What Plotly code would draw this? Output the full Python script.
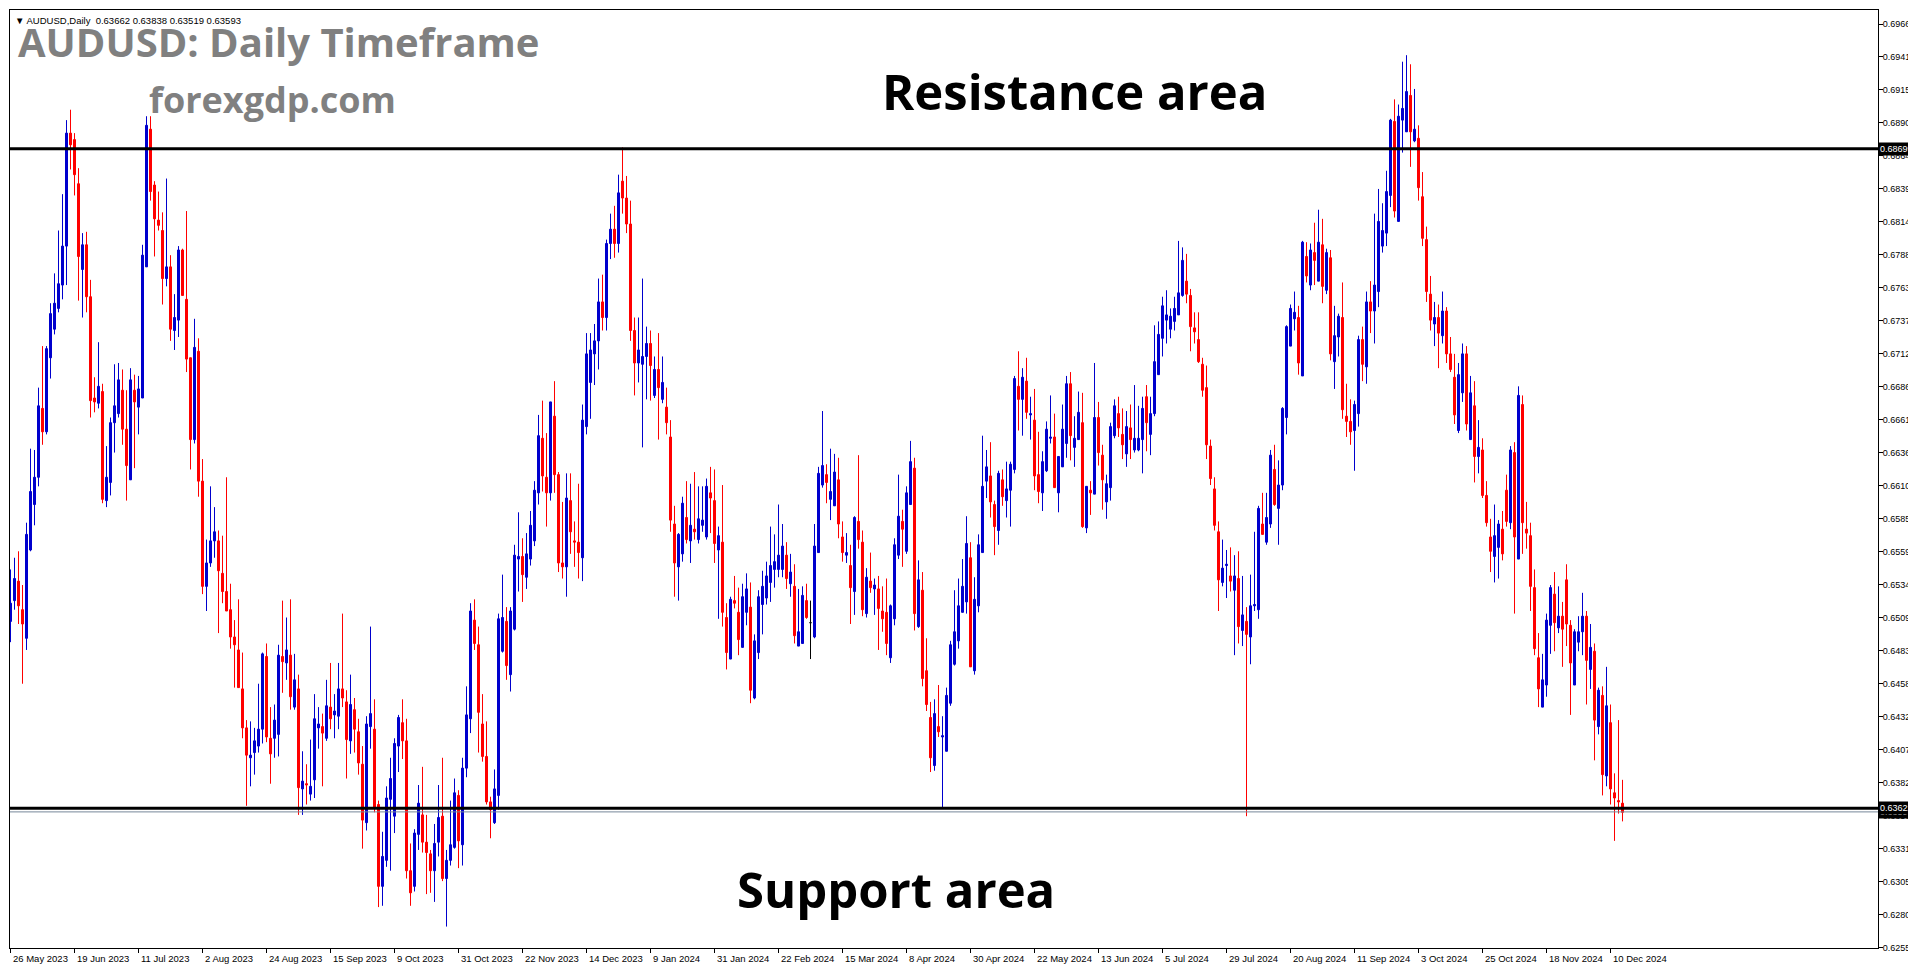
import plotly.graph_objects as go

# ---------------- text ----------------
HEADER = "\u25BC AUDUSD,Daily  0.63662 0.63838 0.63519 0.63593"
TITLE = "AUDUSD: Daily Timeframe"
SUBTITLE = "forexgdp.com"
RES_LABEL = "Resistance area"
SUP_LABEL = "Support area"

# ---------------- levels ----------------
RESISTANCE = 0.68699
SUPPORT = 0.63622
BID = 0.63593

# ---------------- x-axis (bar index) ticks ----------------
date_tick_bars = [0, 16, 32, 48, 64, 80, 96, 112, 128, 144, 160, 176, 192,
                  208, 224, 240, 256, 272, 288, 304, 320, 336, 352, 368, 384, 400]
date_tick_labels = ["26 May 2023", "19 Jun 2023", "11 Jul 2023", "2 Aug 2023", "24 Aug 2023",
                    "15 Sep 2023", "9 Oct 2023", "31 Oct 2023", "22 Nov 2023", "14 Dec 2023",
                    "9 Jan 2024", "31 Jan 2024", "22 Feb 2024", "15 Mar 2024", "8 Apr 2024",
                    "30 Apr 2024", "22 May 2024", "13 Jun 2024", "5 Jul 2024", "29 Jul 2024",
                    "20 Aug 2024", "11 Sep 2024", "3 Oct 2024", "25 Oct 2024", "18 Nov 2024",
                    "10 Dec 2024"]

# ---------------- price ticks ----------------
price_ticks = [0.69660, 0.69410, 0.69155, 0.68900, 0.68645, 0.68390, 0.68140, 0.67885,
               0.67630, 0.67375, 0.67120, 0.66865, 0.66615, 0.66360, 0.66105, 0.65850,
               0.65595, 0.65345, 0.65090, 0.64835, 0.64580, 0.64325, 0.64070, 0.63820,
               0.63565, 0.63310, 0.63055, 0.62800, 0.62550]
price_tick_labels = ["0.69660", "0.69410", "0.69155", "0.68900", "0.68645", "0.68390",
                     "0.68140", "0.67885", "0.67630", "0.67375", "0.67120", "0.66865",
                     "0.66615", "0.66360", "0.66105", "0.65850", "0.65595", "0.65345",
                     "0.65090", "0.64835", "0.64580", "0.64325", "0.64070", "0.63820",
                     "0.63565", "0.63310", "0.63055", "0.62800", "0.62550"]

# ---------------- daily OHLC (units of 0.0001) ----------------
opens = [
    6506, 6522, 6537, 6515, 6493, 6561, 6596, 6617, 6670, 6652,
    6709, 6731, 6747, 6765, 6795, 6882, 6877, 6843, 6777, 6796,
    6756, 6678, 6674, 6683, 6599, 6613, 6659, 6666, 6684, 6654,
    6615, 6684, 6671, 6678, 6779, 6885, 6842, 6815, 6807, 6770,
    6779, 6730, 6738, 6792, 6754, 6709, 6646, 6714, 6614, 6533,
    6551, 6568, 6568, 6543, 6529, 6515, 6494, 6484, 6454, 6424,
    6401, 6405, 6410, 6423, 6479, 6416, 6416, 6419, 6479, 6474,
    6480, 6440, 6454, 6377, 6381, 6373, 6384, 6424, 6425, 6416,
    6440, 6434, 6433, 6454, 6444, 6414, 6438, 6421, 6396, 6351,
    6425, 6423, 6365, 6302, 6322, 6369, 6356, 6410, 6428, 6414,
    6314, 6302, 6342, 6357, 6336, 6327, 6314, 6336, 6356, 6308,
    6322, 6332, 6372, 6334, 6393, 6431, 6507, 6488, 6427, 6402,
    6367, 6351, 6372, 6483, 6506, 6465, 6500, 6554, 6556, 6540,
    6554, 6568, 6605, 6647, 6617, 6605, 6664, 6619, 6551, 6548,
    6599, 6568, 6567, 6555, 6656, 6690, 6712, 6722, 6752, 6740,
    6797, 6808, 6797, 6845, 6832, 6812, 6730, 6705, 6704, 6710,
    6720, 6680, 6700, 6677, 6671, 6648, 6581, 6548, 6558, 6586,
    6568, 6577, 6569, 6580, 6571, 6605, 6599, 6561, 6567, 6509,
    6477, 6522, 6513, 6486, 6513, 6517, 6447, 6482, 6519, 6524,
    6536, 6546, 6546, 6546, 6557, 6535, 6533, 6487, 6489, 6522,
    6505, 6494, 6559, 6611, 6619, 6600, 6595, 6615, 6571, 6557,
    6549, 6529, 6583, 6567, 6512, 6537, 6531, 6531, 6514, 6513,
    6478, 6508, 6557, 6583, 6560, 6596, 6624, 6502, 6530, 6468,
    6432, 6395, 6425, 6417, 6406, 6443, 6473, 6491, 6513, 6521,
    6555, 6468, 6518, 6559, 6614, 6618, 6596, 6576, 6615, 6599,
    6607, 6623, 6687, 6677, 6691, 6665, 6661, 6619, 6605, 6622,
    6647, 6648, 6605, 6625, 6643, 6689, 6640, 6646, 6659, 6578,
    6607, 6604, 6663, 6634, 6598, 6609, 6649, 6666, 6650, 6635,
    6655, 6638, 6638, 6646, 6679, 6650, 6666, 6696, 6724, 6738,
    6731, 6737, 6742, 6757, 6768, 6757, 6732, 6723, 6704, 6686,
    6641, 6608, 6575, 6536, 6549, 6541, 6530, 6539, 6499, 6506,
    6494, 6518, 6515, 6581, 6567, 6581, 6623, 6593, 6611, 6663,
    6718, 6739, 6740, 6695, 6787, 6765, 6790, 6768, 6796, 6761,
    6786, 6706, 6725, 6740, 6664, 6660, 6653, 6666, 6723, 6702,
    6752, 6745, 6760, 6795, 6805, 6834, 6891, 6814, 6892, 6883,
    6911, 6876, 6878, 6833, 6800, 6758, 6735, 6740, 6726, 6745,
    6712, 6694, 6653, 6682, 6712, 6646, 6672, 6633, 6638, 6603,
    6571, 6556, 6563, 6577, 6607, 6582, 6636, 6554, 6673, 6577,
    6572, 6532, 6478, 6440, 6457, 6503, 6527, 6501, 6510, 6538,
    6503, 6457, 6490, 6498, 6510, 6469, 6483, 6425, 6449, 6387,
    6428, 6374, 6368, 6366,
]
highs = [
    6546, 6555, 6560, 6534, 6582, 6639, 6638, 6686, 6718, 6718,
    6751, 6774, 6807, 6835, 6892, 6900, 6882, 6855, 6805, 6806,
    6769, 6694, 6721, 6689, 6641, 6663, 6704, 6705, 6700, 6684,
    6701, 6696, 6695, 6796, 6895, 6895, 6845, 6837, 6821, 6847,
    6788, 6758, 6795, 6793, 6822, 6709, 6739, 6724, 6631, 6569,
    6610, 6594, 6576, 6572, 6617, 6535, 6507, 6523, 6482, 6430,
    6429, 6424, 6458, 6482, 6489, 6440, 6442, 6488, 6522, 6509,
    6523, 6481, 6465, 6406, 6396, 6415, 6450, 6440, 6435, 6461,
    6474, 6450, 6474, 6512, 6453, 6465, 6447, 6431, 6410, 6433,
    6502, 6446, 6368, 6344, 6379, 6401, 6416, 6434, 6446, 6431,
    6335, 6346, 6380, 6394, 6357, 6330, 6350, 6380, 6401, 6330,
    6368, 6385, 6376, 6401, 6456, 6520, 6523, 6502, 6450, 6429,
    6371, 6392, 6512, 6542, 6517, 6517, 6565, 6590, 6570, 6574,
    6591, 6614, 6665, 6676, 6651, 6675, 6691, 6621, 6598, 6620,
    6620, 6583, 6612, 6673, 6728, 6728, 6735, 6770, 6773, 6800,
    6820, 6826, 6850, 6871, 6849, 6830, 6740, 6740, 6770, 6733,
    6730, 6710, 6728, 6710, 6686, 6661, 6595, 6574, 6602, 6614,
    6612, 6621, 6610, 6610, 6616, 6625, 6623, 6579, 6611, 6520,
    6525, 6541, 6532, 6535, 6543, 6536, 6496, 6530, 6545, 6552,
    6579, 6573, 6596, 6581, 6567, 6558, 6550, 6531, 6533, 6535,
    6522, 6581, 6625, 6668, 6627, 6639, 6635, 6632, 6583, 6574,
    6565, 6587, 6634, 6576, 6547, 6559, 6539, 6541, 6533, 6539,
    6519, 6570, 6619, 6592, 6610, 6645, 6632, 6553, 6544, 6493,
    6444, 6446, 6457, 6433, 6455, 6491, 6530, 6539, 6554, 6587,
    6567, 6540, 6573, 6649, 6638, 6644, 6599, 6622, 6623, 6629,
    6629, 6695, 6714, 6701, 6709, 6679, 6685, 6652, 6637, 6660,
    6680, 6666, 6633, 6673, 6695, 6698, 6664, 6683, 6682, 6610,
    6614, 6705, 6675, 6642, 6619, 6659, 6677, 6679, 6670, 6668,
    6673, 6688, 6672, 6679, 6688, 6679, 6734, 6737, 6756, 6761,
    6747, 6756, 6799, 6794, 6789, 6762, 6744, 6744, 6709, 6703,
    6646, 6617, 6583, 6569, 6561, 6563, 6557, 6560, 6541, 6517,
    6542, 6575, 6595, 6605, 6605, 6638, 6642, 6630, 6671, 6734,
    6750, 6760, 6749, 6799, 6798, 6797, 6813, 6823, 6816, 6793,
    6792, 6749, 6743, 6767, 6689, 6677, 6676, 6726, 6733, 6760,
    6768, 6820, 6839, 6828, 6853, 6893, 6908, 6904, 6937, 6942,
    6935, 6916, 6888, 6852, 6810, 6772, 6752, 6750, 6760, 6748,
    6725, 6712, 6705, 6720, 6718, 6695, 6691, 6661, 6647, 6614,
    6585, 6596, 6584, 6591, 6619, 6641, 6644, 6687, 6680, 6598,
    6582, 6546, 6497, 6481, 6512, 6534, 6544, 6533, 6521, 6550,
    6507, 6500, 6510, 6528, 6514, 6504, 6489, 6455, 6456, 6471,
    6442, 6389, 6430, 6384,
]
lows = [
    6490, 6515, 6504, 6458, 6484, 6560, 6580, 6610, 6642, 6650,
    6693, 6727, 6744, 6754, 6765, 6854, 6834, 6753, 6740, 6744,
    6663, 6667, 6670, 6597, 6594, 6603, 6636, 6663, 6642, 6599,
    6615, 6624, 6650, 6678, 6779, 6830, 6787, 6807, 6750, 6764,
    6722, 6715, 6725, 6757, 6698, 6623, 6643, 6602, 6527, 6514,
    6548, 6555, 6497, 6520, 6514, 6485, 6455, 6455, 6416, 6364,
    6379, 6388, 6405, 6412, 6413, 6381, 6401, 6402, 6451, 6461,
    6438, 6438, 6357, 6357, 6365, 6368, 6370, 6408, 6379, 6414,
    6423, 6416, 6423, 6440, 6385, 6404, 6405, 6388, 6331, 6345,
    6408, 6359, 6286, 6287, 6317, 6314, 6343, 6390, 6400, 6308,
    6287, 6298, 6330, 6328, 6296, 6297, 6290, 6325, 6306, 6271,
    6318, 6331, 6316, 6318, 6386, 6420, 6484, 6405, 6398, 6365,
    6339, 6350, 6361, 6482, 6461, 6452, 6499, 6529, 6521, 6531,
    6549, 6564, 6596, 6606, 6579, 6599, 6605, 6544, 6539, 6525,
    6558, 6548, 6539, 6537, 6650, 6662, 6688, 6700, 6730, 6730,
    6785, 6786, 6790, 6820, 6805, 6722, 6680, 6690, 6640, 6677,
    6676, 6678, 6646, 6674, 6650, 6575, 6525, 6522, 6552, 6566,
    6551, 6569, 6566, 6575, 6569, 6574, 6551, 6508, 6502, 6469,
    6477, 6516, 6480, 6486, 6503, 6443, 6446, 6477, 6496, 6519,
    6521, 6532, 6540, 6540, 6531, 6525, 6489, 6487, 6489, 6508,
    6477, 6493, 6559, 6609, 6597, 6584, 6595, 6570, 6552, 6551,
    6504, 6511, 6562, 6510, 6509, 6528, 6511, 6484, 6498, 6480,
    6474, 6503, 6554, 6548, 6558, 6596, 6499, 6501, 6456, 6437,
    6390, 6391, 6417, 6362, 6406, 6441, 6472, 6485, 6513, 6512,
    6471, 6465, 6513, 6559, 6601, 6586, 6557, 6565, 6595, 6586,
    6579, 6620, 6653, 6649, 6662, 6646, 6607, 6597, 6591, 6621,
    6643, 6609, 6590, 6625, 6632, 6630, 6625, 6646, 6578, 6574,
    6588, 6604, 6626, 6592, 6585, 6599, 6647, 6648, 6631, 6625,
    6631, 6636, 6637, 6620, 6637, 6634, 6664, 6696, 6710, 6720,
    6724, 6730, 6742, 6756, 6751, 6714, 6720, 6705, 6679, 6631,
    6611, 6576, 6514, 6533, 6524, 6529, 6480, 6489, 6487, 6356,
    6473, 6514, 6508, 6573, 6565, 6578, 6595, 6565, 6607, 6650,
    6718, 6730, 6696, 6695, 6767, 6761, 6765, 6768, 6751, 6758,
    6707, 6685, 6710, 6662, 6648, 6642, 6622, 6656, 6691, 6689,
    6728, 6720, 6748, 6790, 6795, 6825, 6817, 6814, 6867, 6883,
    6856, 6875, 6830, 6795, 6752, 6730, 6718, 6701, 6720, 6705,
    6698, 6658, 6651, 6675, 6653, 6646, 6613, 6620, 6601, 6579,
    6544, 6536, 6539, 6553, 6579, 6577, 6512, 6554, 6558, 6562,
    6514, 6480, 6440, 6440, 6448, 6481, 6483, 6497, 6471, 6487,
    6434, 6457, 6483, 6480, 6442, 6454, 6399, 6419, 6372, 6379,
    6365, 6337, 6358, 6352,
]
closes = [
    6520, 6539, 6518, 6504, 6573, 6606, 6617, 6672, 6652, 6716,
    6743, 6751, 6766, 6795, 6882, 6873, 6850, 6787, 6796, 6756,
    6676, 6675, 6687, 6600, 6617, 6659, 6672, 6692, 6654, 6626,
    6692, 6675, 6685, 6788, 6888, 6837, 6816, 6811, 6770, 6779,
    6731, 6740, 6792, 6757, 6708, 6646, 6717, 6614, 6533, 6551,
    6568, 6575, 6545, 6529, 6514, 6494, 6488, 6455, 6424, 6403,
    6403, 6414, 6423, 6481, 6417, 6404, 6430, 6480, 6475, 6484,
    6448, 6461, 6378, 6383, 6380, 6379, 6431, 6427, 6420, 6441,
    6431, 6437, 6454, 6447, 6415, 6442, 6423, 6397, 6353, 6427,
    6435, 6363, 6302, 6325, 6370, 6385, 6412, 6432, 6414, 6314,
    6297, 6343, 6366, 6336, 6328, 6314, 6335, 6355, 6308, 6322,
    6334, 6374, 6337, 6393, 6434, 6514, 6489, 6436, 6402, 6367,
    6361, 6377, 6508, 6509, 6472, 6514, 6557, 6556, 6542, 6558,
    6580, 6607, 6649, 6618, 6605, 6675, 6619, 6551, 6548, 6601,
    6575, 6567, 6559, 6661, 6712, 6715, 6722, 6752, 6740, 6797,
    6808, 6797, 6836, 6832, 6812, 6730, 6705, 6715, 6710, 6720,
    6703, 6700, 6686, 6690, 6659, 6584, 6551, 6573, 6597, 6569,
    6580, 6575, 6585, 6584, 6610, 6601, 6566, 6572, 6513, 6482,
    6523, 6520, 6492, 6525, 6531, 6453, 6491, 6525, 6533, 6541,
    6549, 6552, 6557, 6564, 6539, 6544, 6495, 6498, 6526, 6509,
    6505, 6564, 6620, 6626, 6613, 6606, 6621, 6581, 6559, 6559,
    6532, 6586, 6569, 6515, 6540, 6532, 6534, 6516, 6508, 6489,
    6518, 6565, 6587, 6577, 6605, 6629, 6512, 6538, 6462, 6442,
    6401, 6435, 6421, 6418, 6449, 6488, 6498, 6518, 6533, 6566,
    6471, 6523, 6565, 6610, 6625, 6598, 6579, 6620, 6602, 6608,
    6627, 6693, 6677, 6694, 6667, 6666, 6618, 6606, 6629, 6654,
    6648, 6609, 6633, 6654, 6689, 6649, 6647, 6667, 6579, 6610,
    6605, 6663, 6636, 6615, 6612, 6656, 6672, 6655, 6642, 6656,
    6646, 6647, 6647, 6670, 6659, 6666, 6706, 6727, 6749, 6742,
    6741, 6747, 6759, 6784, 6758, 6733, 6729, 6706, 6684, 6642,
    6616, 6580, 6538, 6547, 6550, 6537, 6541, 6502, 6511, 6496,
    6518, 6519, 6593, 6573, 6586, 6634, 6596, 6611, 6670, 6733,
    6747, 6744, 6705, 6798, 6772, 6792, 6784, 6798, 6764, 6790,
    6712, 6726, 6741, 6669, 6660, 6652, 6673, 6723, 6704, 6752,
    6745, 6765, 6814, 6807, 6837, 6892, 6822, 6895, 6901, 6914,
    6883, 6885, 6840, 6801, 6760, 6738, 6740, 6728, 6745, 6712,
    6700, 6665, 6696, 6712, 6658, 6682, 6633, 6640, 6603, 6582,
    6560, 6572, 6581, 6558, 6583, 6638, 6571, 6680, 6582, 6574,
    6533, 6485, 6454, 6461, 6507, 6532, 6505, 6510, 6500, 6504,
    6474, 6498, 6498, 6510, 6476, 6486, 6430, 6453, 6388, 6441,
    6377, 6370, 6367, 6359,
]

# ---------------- styling ----------------
BULL = "#0000CD"
BEAR = "#FF0000"
DOJI = "#000000"
W, H = 1916, 964
ML, MR, MT, MB = 2, 46, 2, 24
PW, PH = W - ML - MR, H - MT - MB
BAR_PX = 4
X0 = -0.125
X1 = X0 + PW / BAR_PX
Y_RANGE = [0.62545, 0.69768]

o = [v / 10000 for v in opens]
h = [v / 10000 for v in highs]
l = [v / 10000 for v in lows]
c = [v / 10000 for v in closes]
n = len(c)
idx = list(range(n))
cols = [BULL if c[i] > o[i] else (BEAR if c[i] < o[i] else DOJI) for i in idx]

fig = go.Figure()

# wicks
for colr in (BULL, BEAR, DOJI):
    xs, ys = [], []
    for i in idx:
        if cols[i] == colr:
            xs += [i, i, None]
            ys += [l[i], h[i], None]
    if xs:
        fig.add_trace(go.Scatter(x=xs, y=ys, mode="lines", line=dict(color=colr, width=1),
                                 hoverinfo="skip", showlegend=False))

# bodies
fig.add_trace(go.Bar(
    x=idx,
    y=[abs(c[i] - o[i]) for i in idx],
    base=[min(c[i], o[i]) for i in idx],
    width=0.5,
    marker=dict(color=cols, line=dict(color=cols, width=1)),
    hoverinfo="skip", showlegend=False,
))


def px_x(px):
    return (px - ML) / PW


def px_y(py):
    return 1 - (py - MT) / PH


shapes = [
    dict(type="line", xref="paper", x0=0, x1=1, yref="y", y0=BID, y1=BID,
         line=dict(color="#778899", width=1)),
    dict(type="line", xref="paper", x0=0, x1=1, yref="y", y0=RESISTANCE, y1=RESISTANCE,
         line=dict(color="black", width=3)),
    dict(type="line", xref="paper", x0=0, x1=1, yref="y", y0=SUPPORT, y1=SUPPORT,
         line=dict(color="black", width=3)),
]

AX_FONT = dict(family="Liberation Sans, Arial, sans-serif", size=9, color="black")
DATE_FONT = dict(family="Liberation Sans, Arial, sans-serif", size=9.5, color="black")
annotations = []
for b, t in zip(date_tick_bars, date_tick_labels):
    annotations.append(dict(x=b, xref="x", y=0, yref="paper", text=t, showarrow=False,
                            xanchor="left", yanchor="top", xshift=0, yshift=-3, font=DATE_FONT))

annotations += [
    dict(x=px_x(5), y=px_y(12), xref="paper", yref="paper", text=HEADER, showarrow=False,
         xanchor="left", yanchor="middle",
         font=dict(family="Liberation Sans, Arial, sans-serif", size=9.5, color="black")),
    dict(x=px_x(8), y=px_y(33), xref="paper", yref="paper", text="<b>%s</b>" % TITLE,
         showarrow=False, xanchor="left", yanchor="middle",
         font=dict(family="Open Sans", size=40, color="#808080")),
    dict(x=px_x(139), y=px_y(91), xref="paper", yref="paper", text="<b>%s</b>" % SUBTITLE,
         showarrow=False, xanchor="left", yanchor="middle",
         font=dict(family="Open Sans", size=36, color="#808080")),
    dict(x=px_x(872), y=px_y(83), xref="paper", yref="paper", text="<b>%s</b>" % RES_LABEL,
         showarrow=False, xanchor="left", yanchor="middle",
         font=dict(family="Open Sans", size=49, color="black")),
    dict(x=px_x(727), y=px_y(881), xref="paper", yref="paper", text="<b>%s</b>" % SUP_LABEL,
         showarrow=False, xanchor="left", yanchor="middle",
         font=dict(family="Open Sans", size=49, color="black")),
]

MARK_FONT = dict(family="Liberation Sans, Arial, sans-serif", size=9, color="white")
for lvl in (RESISTANCE, BID, SUPPORT):
    annotations.append(dict(x=1, xref="paper", y=lvl, yref="y", text="%.5f" % lvl,
                            showarrow=False, xanchor="left", yanchor="middle", xshift=0,
                            bgcolor="black", borderpad=1, font=MARK_FONT))

fig.update_layout(
    width=W, height=H,
    margin=dict(l=ML, r=MR, t=MT, b=MB, pad=0, autoexpand=False),
    paper_bgcolor="white", plot_bgcolor="white",
    showlegend=False, barmode="overlay",
    shapes=shapes, annotations=annotations,
    xaxis=dict(range=[X0, X1], showgrid=False, zeroline=False, showline=True,
               linecolor="black", linewidth=1, mirror=True, ticks="outside", ticklen=4,
               tickcolor="black", tickvals=date_tick_bars, showticklabels=False,
               fixedrange=True, automargin=False),
    yaxis=dict(range=Y_RANGE, side="right", showgrid=False, zeroline=False, showline=True,
               linecolor="black", linewidth=1, mirror=True, ticks="outside", ticklen=4,
               tickcolor="black", tickvals=price_ticks, ticktext=price_tick_labels,
               tickfont=AX_FONT, fixedrange=True, automargin=False, ticklabelstandoff=-2),
)

fig.write_html("out.html")
